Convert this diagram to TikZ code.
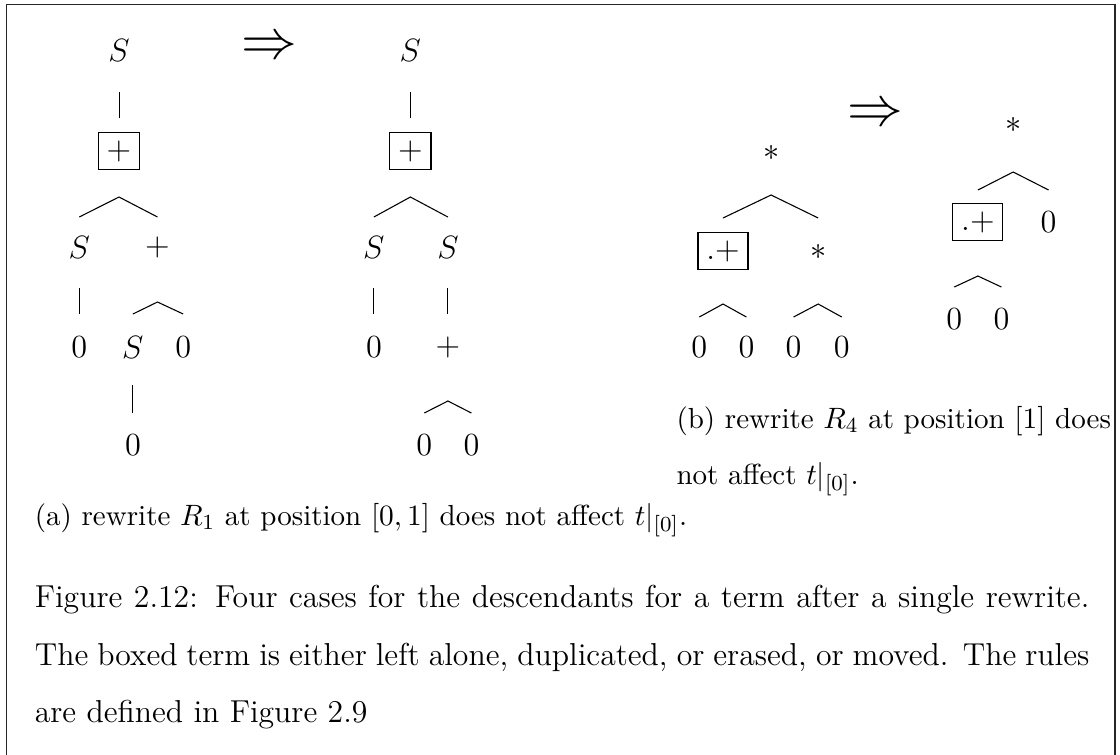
\documentclass[tikz,border=0pt]{standalone}
\usetikzlibrary{calc}
\begin{document}
\begin{tikzpicture}[x=0.372pt,y=-0.372pt,
  every node/.style={font=\fontsize{11.8}{14.2}\selectfont, inner sep=0pt},
  tbox/.style={draw, line width=0.4pt, inner sep=3.1pt},
  lnk/.style={line width=0.4pt},
  arr/.style={font=\fontsize{22.5}{27}\selectfont},
  captxt/.style={anchor=base west},
  subcap/.style={anchor=base west, font=\fontsize{10.8}{13}\selectfont},
  frm/.style={line width=0.45pt, black!85}]
\useasboundingbox (0,0) rectangle (1120,754);
% frame
\draw[frm] (6.4,760) -- (6.4,4.3) -- (1115,4.3) -- (1115,760);

% ---------- tree a1 ----------
\node (a1S) at (119,50) {$S$};
\node[tbox] (a1p) at (119,151) {$+$};
\node (a1S2) at (79.3,247) {$S$};
\node (a1P) at (157.5,247) {$+$};
\node (a1z1) at (79.3,347) {$0$};
\node (a1S3) at (132.9,347) {$S$};
\node (a1z2) at (183.2,347) {$0$};
\node (a1z3) at (132.9,445) {$0$};
\draw[lnk] ($(a1S)+(0.5,42)$) -- ($(a1p)+(0.5,-33)$);
\draw[lnk] ($(a1S2)+(0,-30)$) -- ($(a1p |- a1S2)+(0,-50)$) -- ($(a1P)+(0,-30)$);
\draw[lnk] ($(a1S2)+(0,41)$) -- ($(a1z1)+(0,-33)$);
\draw[lnk] ($(a1S3)+(0,-33)$) -- ($(a1P |- a1S3)+(0,-45)$) -- ($(a1z2)+(0,-33)$);
\draw[lnk] ($(a1S3)+(0,38)$) -- ($(a1z3)+(0,-32)$);

% arrow a
\node[arr] (arrA) at (269.5,48) {$\Rightarrow$};

% ---------- tree a2 ----------
\node (a2S) at (410.4,50) {$S$};
\node[tbox] (a2p) at (410.4,151) {$+$};
\node (a2S2) at (373.9,247) {$S$};
\node (a2S3) at (447.9,247) {$S$};
\node (a2z1) at (373.9,347) {$0$};
\node (a2P) at (447.9,347) {$+$};
\node (a2z2) at (424.3,445) {$0$};
\node (a2z3) at (471.4,445) {$0$};
\draw[lnk] ($(a2S)+(0,42)$) -- ($(a2p)+(0,-33)$);
\draw[lnk] ($(a2S2)+(0,-30)$) -- ($(a2p |- a2S2)+(0,-50)$) -- ($(a2S3)+(0,-30)$);
\draw[lnk] ($(a2S2)+(0,41)$) -- ($(a2z1)+(0,-33)$);
\draw[lnk] ($(a2S3)+(0,41)$) -- ($(a2P)+(0,-33)$);
\draw[lnk] ($(a2z2)+(0,-32)$) -- ($(a2P |- a2z2)+(0,-44)$) -- ($(a2z3)+(0,-32)$);

% ---------- tree b1 ----------
\node (b1A) at (771.1,153) {$\ast$};
\node[tbox] (b1p) at (723,251) {$.+$};
\node (b1A2) at (818.2,252) {$\ast$};
\node (b1z1) at (699.3,347) {$0$};
\node (b1z2) at (746.4,347) {$0$};
\node (b1z3) at (793.6,347) {$0$};
\node (b1z4) at (841.8,347) {$0$};
\draw[lnk] ($(b1p |- 0,218)$) -- ($(b1A |- 0,195)$) -- ($(b1A2 |- 0,218)$);
\draw[lnk] ($(b1z1)+(0,-30)$) -- ($(b1p |- b1z1)+(0,-43)$) -- ($(b1z2)+(0,-30)$);
\draw[lnk] ($(b1z3)+(0,-30)$) -- ($(b1A2 |- b1z3)+(0,-43)$) -- ($(b1z4)+(0,-30)$);

% arrow b
\node[arr] (arrB) at (875,115) {$\Rightarrow$};

% ---------- tree b2 ----------
\node (b2A) at (1013.2,125) {$\ast$};
\node[tbox] (b2p) at (977.9,222) {$.+$};
\node (b2z) at (1048.6,222) {$0$};
\node (b2z1) at (954.3,319) {$0$};
\node (b2z2) at (1001.4,319) {$0$};
\draw[lnk] ($(b2p)+(0,-32)$) -- ($(b2A |- b2p)+(0,-50)$) -- ($(b2z)+(0,-32)$);
\draw[lnk] ($(b2z1)+(0,-32)$) -- ($(b2p |- b2z1)+(0,-43)$) -- ($(b2z2)+(0,-32)$);

% ---------- captions ----------
\node[subcap] (capb1) at (676,428) {(b) rewrite $R_4$ at position $[1]$ does};
\node[subcap] (capb2) at (676,484) {not affect $t|_{[0]}$.};
\node[subcap] (capa) at (34.3,525) {(a) rewrite $R_1$ at position $[0,1]$ does not affect $t|_{[0]}$.};
\node[captxt] (fig1) at (34.3,607) {\spaceskip=0.326em plus 0.3em minus 0.2em\xspaceskip=0.5em plus 0.3em minus 0.2em
  \makebox[392.3pt][s]{Figure 2.12: Four cases for the descendants for a term after a single rewrite.}};
\node[captxt] (fig2) at (34.3,665) {\spaceskip=0.326em plus 0.3em minus 0.2em\xspaceskip=0.5em plus 0.3em minus 0.2em
  \makebox[392.3pt][s]{The boxed term is either left alone, duplicated, or erased, or moved. The rules}};
\node[captxt] (fig3) at (34.3,722) {are defined in Figure 2.9};
\end{tikzpicture}
\end{document}
